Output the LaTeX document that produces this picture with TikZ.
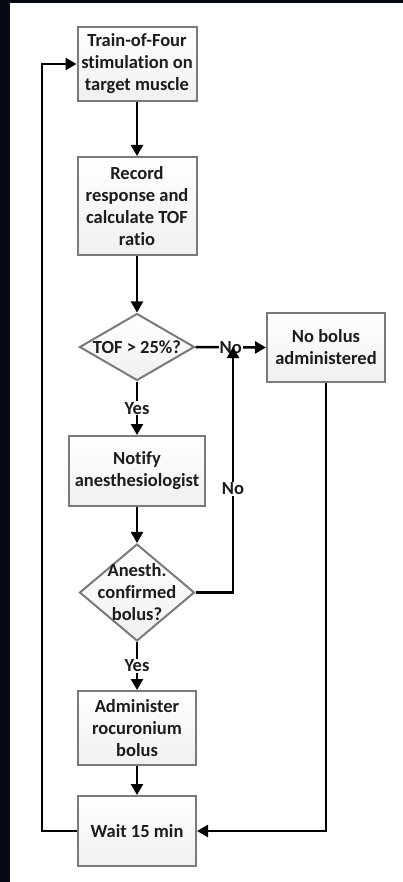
\documentclass[tikz,border=0pt]{standalone}
\usepackage{fontspec}
\setmainfont{Carlito}[Ligatures=NoCommon]
\usetikzlibrary{shapes.geometric,arrows.meta}
\definecolor{frame}{HTML}{050A14}
\definecolor{edge}{HTML}{7A7A7A}
\definecolor{boxfill}{HTML}{F0F0F0}
\definecolor{ink}{HTML}{1C1C1C}

\begin{document}
\begin{tikzpicture}[x=1pt,y=-1pt,
  font=\bfseries\fontsize{18.5}{22}\selectfont,
  stepbox/.style={draw=edge,line width=2pt,top color=white,bottom color=boxfill,
    align=center,inner sep=0pt,text=ink},
  decision/.style={diamond,draw=edge,line width=2pt,top color=white,bottom color=boxfill,
    inner sep=0pt},
  flow/.style={line width=2.5pt,draw=black,-{Triangle[length=11pt,width=12pt]}},
  tag/.style={fill=white,inner sep=1pt,text=ink}]

  % page frame
  \useasboundingbox (0,0) rectangle (403,882);
  \fill[frame] (0,0) rectangle (403,882);
  \fill[white] (9.5,3.5) rectangle (403,882);

  % process steps
  \node[stepbox,minimum width=119pt,minimum height=74pt] (b1) at (137,64)
    {Train-of-Four\\stimulation on\\target muscle};
  \node[stepbox,minimum width=119pt,minimum height=98pt] (b2) at (137,206)
    {Record\\response and\\calculate TOF\\ratio};
  \node[decision,minimum width=115pt,minimum height=67pt] (d1) at (137,347) {};
  \node[text=ink] at (d1) {TOF > 25\%?};
  \node[stepbox,minimum width=118pt,minimum height=69pt] (b3) at (326,347.5)
    {No bolus\\administered};
  \node[stepbox,minimum width=136pt,minimum height=70pt] (b4) at (137,471)
    {Notify\\anesthesiologist};
  \node[decision,minimum width=115pt,minimum height=97pt] (d2) at (137,592.5) {};
  \node[text=ink,align=center] at (d2) {Anesth.\\confirmed\\bolus?};
  \node[stepbox,minimum width=118pt,minimum height=74pt] (b5) at (137,728)
    {Administer\\rocuronium\\bolus};
  \node[stepbox,minimum width=118pt,minimum height=70pt] (b6) at (137,831)
    {Wait 15 min};

  \coordinate (nojoin) at (233,347);

  % connectors
  \draw[flow] (b1) -- (b2);
  \draw[flow] (b2) -- (d1);
  \draw[flow] (d1.east) -- node[tag] {No} (b3.west);
  \draw[flow] (d1.south) -- node[tag] {Yes} (b4.north);
  \draw[flow] (b4) -- (d2);
  \draw[flow] (d2.east) -| (nojoin);
  \node[tag] (nolabel) at (233,489) {No};
  \draw[flow] (d2.south) -- node[tag] {Yes} (b5.north);
  \draw[flow] (b5) -- (b6);
  \draw[flow] (b3.south) |- (b6.east);
  \draw[flow] (b6.west) -- ++(-35,0) |- (b1.west);
\end{tikzpicture}
\end{document}
